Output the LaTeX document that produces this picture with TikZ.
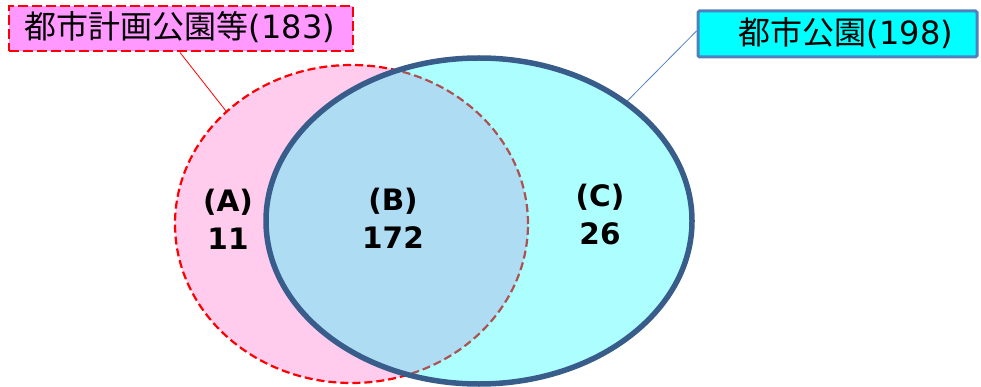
\documentclass[tikz,border=0pt]{standalone}
\usepackage{fontspec}
\setmainfont{Noto Sans CJK JP}
\newfontfamily\lat{DejaVu Sans}
\usetikzlibrary{shapes.geometric}
\definecolor{pinkfill}{RGB}{255,204,238}
\definecolor{boxpink}{RGB}{255,153,255}
\definecolor{aqua}{RGB}{0,255,255}
\definecolor{ringblue}{RGB}{56,93,138}
\definecolor{boxblue}{RGB}{79,129,189}
\tikzset{
  setA/.style={ellipse, inner sep=0pt, fill=pinkfill, draw=red, line width=2.2pt, dash pattern=on 8pt off 4pt},
  setB/.style={ellipse, inner sep=0pt, fill=aqua, fill opacity=0.32, draw=ringblue, draw opacity=1, line width=5.5pt},
  tagA/.style={draw=red, line width=2.8pt, dash pattern=on 10pt off 4pt, fill=boxpink, minimum width=344pt, minimum height=45pt, inner sep=0pt},
  tagB/.style={draw=boxblue, line width=3pt, fill=aqua, rounded corners=1.5pt, minimum width=279pt, minimum height=46pt, inner sep=0pt},
  tagtext/.style={font=\fontsize{32}{36}\selectfont},
  region/.style={align=center, font=\lat\bfseries\fontsize{29.5}{38}\selectfont},
}
\begin{document}
\begin{tikzpicture}[x=1pt,y=-1pt]
\useasboundingbox (0,0) rectangle (981,387);
\node[setA, minimum width=353pt, minimum height=318pt] (pink) at (351.5,224) {};
\node[setB, minimum width=426pt, minimum height=326pt] (cyanset) at (479,221) {};
\node[tagA] (tag1) at (181,28.5) {};
\node[tagtext] (t1) at (180,27) {都市計画公園等{\lat(183)}};
\node[tagB] (tag2) at (837.5,34) {};
\node[tagtext] (t2) at (846,33) {都市公園{\lat(198)}};
\draw[red, line width=0.8pt] (180,52.5) -- (pink.138);
\draw[boxblue, line width=0.8pt] (tag2.west) ++(0,-3) -- (cyanset.39);
\node[region] (ra) at (228,219) {(A)\\11};
\node[region] (rb) at (393,218) {(B)\\172};
\node[region] (rc) at (600,215) {(C)\\26};
\end{tikzpicture}
\end{document}
